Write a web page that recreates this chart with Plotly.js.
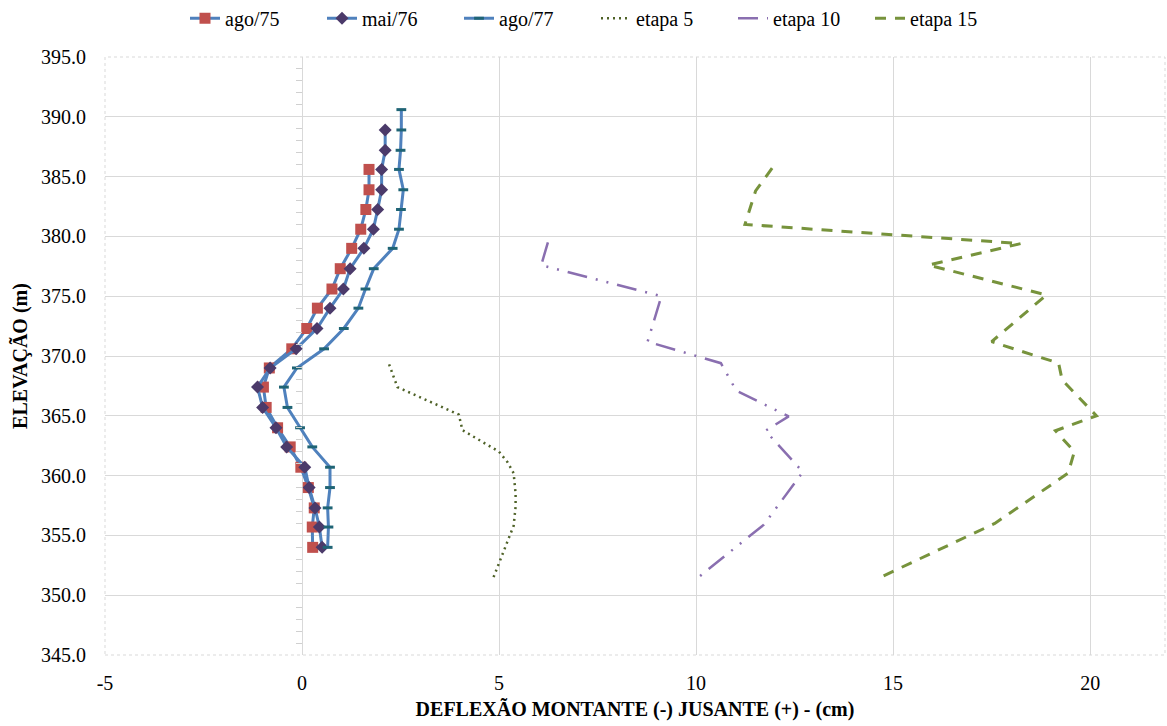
<!DOCTYPE html>
<html>
<head>
<meta charset="utf-8">
<script src="https://cdn.plot.ly/plotly-3.0.1.min.js"></script>
<style>
html,body{margin:0;padding:0;background:#fff;}
#chart{width:1167px;height:726px;}
#chart svg text{font-family:"Liberation Serif", serif !important;}
</style>
</head>
<body>
<div id="chart"></div>
<script>
// ---- data ----
const elevAgo75 = [385.6,383.9,382.25,380.6,379.0,377.3,375.6,374.0,372.3,370.6,369.0,367.4,365.7,364.0,362.4,360.7,359.0,357.3,355.7,354.0];
const defAgo75  = [1.70,1.70,1.62,1.49,1.26,0.97,0.76,0.39,0.12,-0.26,-0.83,-0.98,-0.91,-0.62,-0.30,-0.03,0.16,0.31,0.26,0.27];

const elevMai76 = [388.9,387.2,385.6,383.9,382.25,380.6,379.0,377.3,375.6,374.0,372.3,370.6,369.0,367.4,365.7,364.0,362.4,360.7,359.0,357.3,355.7,354.0];
const defMai76  = [2.11,2.11,2.02,2.02,1.92,1.81,1.57,1.22,1.05,0.71,0.38,-0.15,-0.81,-1.13,-1.00,-0.66,-0.39,0.07,0.18,0.33,0.44,0.51];

const elevAgo77 = [390.6,388.9,387.2,385.6,383.9,382.25,380.6,379.0,377.3,375.6,374.0,372.3,370.6,369.0,367.4,365.7,364.0,362.4,360.7,359.0,357.3,355.7,354.0];
const defAgo77  = [2.52,2.52,2.50,2.46,2.57,2.51,2.46,2.30,1.82,1.61,1.43,1.06,0.56,-0.13,-0.46,-0.37,-0.05,0.26,0.71,0.71,0.65,0.67,0.65];

const elevEtapa5 = [369.3,367.4,365.1,363.8,362.0,361.1,360.2,358.5,357.4,355.8,354.8,351.5];
const defEtapa5  = [2.21,2.42,3.98,4.07,5.00,5.22,5.37,5.42,5.42,5.37,5.25,4.86];

const elevEtapa10 = [379.5,377.6,375.0,371.2,369.4,367.1,364.95,363.75,360.3,355.9,351.5];
const defEtapa10  = [6.24,6.07,9.12,8.77,10.63,11.02,12.35,11.76,12.71,11.72,10.06];

const elevEtapa15 = [385.7,383.8,381.0,379.4,377.6,375.1,371.2,369.4,368.0,365.0,363.75,362.0,360.2,356.0,351.5];
const defEtapa15  = [11.93,11.51,11.24,18.24,15.90,18.89,17.50,19.20,19.29,20.16,19.12,19.60,19.44,17.58,14.68];

const xTickVals = [-5,0,5,10,15,20];
const xTickText = ['-5','0','5','10','15','20'];
const yTickVals = [345,350,355,360,365,370,375,380,385,390,395];
const yTickText = ['345.0','350.0','355.0','360.0','365.0','370.0','375.0','380.0','385.0','390.0','395.0'];

// ---- chart ----
const F = 'Liberation Serif';
const blue = '#4F81BD';

const traces = [
  {name:'ago/75', x:defAgo75, y:elevAgo75, mode:'lines+markers',
   line:{color:blue, width:3},
   marker:{symbol:'square', size:11, color:'#C0504D'}},
  {name:'mai/76', x:defMai76, y:elevMai76, mode:'lines+markers',
   line:{color:blue, width:3},
   marker:{symbol:'diamond', size:10, color:'#4B3A6A'}},
  {name:'ago/77', x:defAgo77, y:elevAgo77, mode:'lines+markers',
   line:{color:blue, width:3},
   marker:{symbol:'line-ew', size:7, color:'#1F6475', line:{color:'#1F6475', width:3}}},
  {name:'etapa 5', x:defEtapa5, y:elevEtapa5, mode:'lines',
   line:{color:'#4F6228', width:2.5, dash:'2px,4px'}},
  {name:'etapa 10', x:defEtapa10, y:elevEtapa10, mode:'lines',
   line:{color:'#8A6FB0', width:2.5, dash:'20px,9px,2px,9px,2px,9px'}},
  {name:'etapa 15', x:defEtapa15, y:elevEtapa15, mode:'lines',
   line:{color:'#77933C', width:3, dash:'11px,9px'}}
];

const layout = {
  width:1167, height:726,
  margin:{l:105, r:2, t:57, b:71, autoexpand:false},
  font:{family:F, size:20, color:'#000'},
  legend:{orientation:'h', x:596/1167, xref:'container', xanchor:'center',
          y:0.975, yref:'container', yanchor:'middle', entrywidth:92,
          font:{family:F, size:20}},
  xaxis:{range:[-5,21.9], tickmode:'array', tickvals:xTickVals, ticktext:xTickText,
         gridcolor:'#D9D9D9', zeroline:false, ticklabelstandoff:14,
         tickfont:{family:F, size:20},
         title:{text:'DEFLEXÃO MONTANTE (-) JUSANTE (+) - (cm)', font:{family:F, size:20, weight:'bold'}, standoff:8}},
  yaxis:{range:[345,395], tickmode:'array', tickvals:yTickVals, ticktext:yTickText,
         gridcolor:'#D9D9D9', zeroline:false, ticklabelstandoff:18,
         tickfont:{family:F, size:20},
         title:{text:'ELEVAÇÃO (m)', font:{family:F, size:20, weight:'bold'}, standoff:8}},
  yaxis2:{overlaying:'y', anchor:'free', position:5/26.9, side:'left',
          range:[345,395], dtick:5, tick0:345, showgrid:false, zeroline:false,
          showticklabels:false, ticks:'', showline:false,
          minor:{ticks:'outside', dtick:1, tick0:345, ticklen:6, tickcolor:'#D0D0D0', tickwidth:1, showgrid:false}},
  shapes:[{type:'rect', xref:'paper', yref:'paper', x0:0, x1:1, y0:0, y1:1,
           line:{color:'#D9D9D9', width:1, dash:'dot'}, layer:'below'}]
};

// invisible trace so that yaxis2 (minor ticks at x = 0) is drawn
traces.push({x:[0], y:[370], yaxis:'y2', mode:'markers', marker:{opacity:0}, showlegend:false, hoverinfo:'skip'});

Plotly.newPlot('chart', traces, layout, {displayModeBar:false, staticPlot:true});
</script>
</body>
</html>
